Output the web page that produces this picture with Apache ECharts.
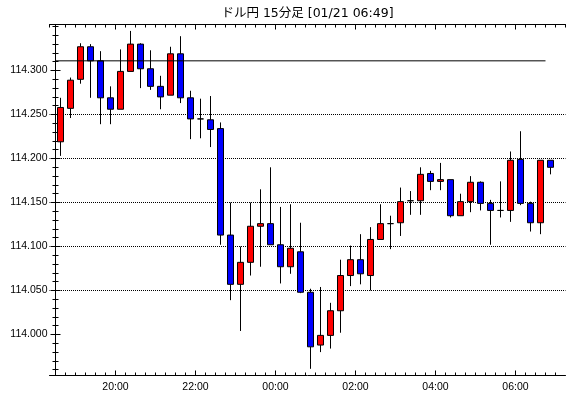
<!DOCTYPE html>
<html>
<head>
<meta charset="utf-8">
<script src="https://cdn.jsdelivr.net/npm/echarts@6/dist/echarts.min.js"></script>
<style>
html, body { margin: 0; padding: 0; background: #fff; }
#chart { width: 570px; height: 398px; }
</style>
</head>
<body>
<div id="chart"></div>
<script>
// 15分足 ローソク足 (時刻は足の開始時刻)
var times = [
  "18:30", "18:45", "19:00", "19:15", "19:30", "19:45", "20:00", "20:15", "20:30", "20:45",
  "21:00", "21:15", "21:30", "21:45", "22:00", "22:15", "22:30", "22:45", "23:00", "23:15",
  "23:30", "23:45", "00:00", "00:15", "00:30", "00:45", "01:00", "01:15", "01:30", "01:45",
  "02:00", "02:15", "02:30", "02:45", "03:00", "03:15", "03:30", "03:45", "04:00", "04:15",
  "04:30", "04:45", "05:00", "05:15", "05:30", "05:45", "06:00", "06:15", "06:30", "06:45"
];
var opens = [
  114.219, 114.257, 114.290, 114.327, 114.311, 114.269, 114.256, 114.299, 114.330, 114.302,
  114.282, 114.272, 114.319, 114.269, 114.245, 114.244, 114.234, 114.113, 114.057, 114.082,
  114.123, 114.126, 114.102, 114.077, 114.094, 114.048, 113.988, 113.999, 114.027, 114.067,
  114.085, 114.067, 114.108, 114.126, 114.127, 114.152, 114.152, 114.183, 114.174, 114.176,
  114.135, 114.151, 114.173, 114.149, 114.141, 114.141, 114.199, 114.149, 114.127, 114.198
];
var closes = [
  114.258, 114.289, 114.327, 114.311, 114.269, 114.256, 114.299, 114.330, 114.302, 114.282,
  114.270, 114.319, 114.269, 114.245, 114.245, 114.233, 114.113, 114.057, 114.082, 114.123,
  114.126, 114.102, 114.077, 114.098, 114.048, 113.986, 113.999, 114.027, 114.067, 114.085,
  114.069, 114.108, 114.126, 114.126, 114.151, 114.152, 114.182, 114.174, 114.176, 114.135,
  114.151, 114.173, 114.149, 114.141, 114.141, 114.198, 114.149, 114.127, 114.198, 114.190
];
var lows = [
  114.203, 114.246, 114.285, 114.269, 114.239, 114.239, 114.256, 114.299, 114.280, 114.278,
  114.256, 114.272, 114.263, 114.222, 114.223, 114.213, 114.102, 114.039, 114.004, 114.067,
  114.077, 114.102, 114.058, 114.069, 114.047, 113.961, 113.980, 113.984, 114.002, 114.055,
  114.057, 114.050, 114.108, 114.097, 114.112, 114.136, 114.136, 114.164, 114.164, 114.133,
  114.135, 114.139, 114.141, 114.102, 114.133, 114.128, 114.147, 114.117, 114.114, 114.182
];
var highs = [
  114.269, 114.292, 114.331, 114.330, 114.322, 114.282, 114.324, 114.345, 114.331, 114.323,
  114.294, 114.327, 114.339, 114.277, 114.268, 114.271, 114.241, 114.150, 114.100, 114.150,
  114.165, 114.190, 114.145, 114.148, 114.127, 114.052, 114.054, 114.036, 114.085, 114.101,
  114.114, 114.122, 114.148, 114.135, 114.167, 114.163, 114.190, 114.186, 114.195, 114.176,
  114.160, 114.180, 114.174, 114.153, 114.174, 114.208, 114.231, 114.151, 114.198, 114.198
];
var refLevel = 114.311;
var xTickLabels = ["20:00", "22:00", "00:00", "02:00", "04:00", "06:00"];
var yTickValues = [114.000, 114.050, 114.100, 114.150, 114.200, 114.250, 114.300];
var titleText = "ドル円 15分足 [01/21 06:49]";

var candles = times.map(function (t, i) {
  return [i + 0.5, opens[i], closes[i], lows[i], highs[i]];
});
var majorIdx = [];
times.forEach(function (t, i) {
  if (xTickLabels.indexOf(t) >= 0) majorIdx.push(i);
});

var font = "Liberation Sans";
var xMin = -0.6, xMax = times.length + 1;
var yMin = 113.9534, yMax = 114.3523;

function tickAxis(pos, len, step, extra) {
  var ax = {
    type: "value",
    position: pos,
    axisLine: { show: false },
    axisTick: { show: true, inside: true, length: len, lineStyle: { color: "#000", width: 1 } },
    axisLabel: { show: false },
    splitLine: { show: false }
  };
  if (pos == "top" || pos == "bottom") {
    ax.min = xMin; ax.max = xMax;
  } else {
    ax.min = yMin; ax.max = yMax;
  }
  if (step) { ax.minInterval = step; ax.maxInterval = step; }
  for (var k in extra) ax[k] = extra[k];
  return ax;
}

var chart = echarts.init(document.getElementById("chart"));
chart.setOption({
  animation: false,
  backgroundColor: "#fff",
  title: {
    text: titleText,
    left: 307.5,
    top: 7,
    padding: 0,
    textAlign: "center",
    textStyle: { color: "#000", fontSize: 12.5, fontWeight: "normal", fontFamily: "DejaVu Sans, Noto Sans CJK JP" }
  },
  grid: {
    left: 49.5,
    right: 4.5,
    top: 24.5,
    bottom: 22.5,
    outerBoundsMode: "none"
  },
  xAxis: [
    tickAxis("bottom", 3, 1, {
      axisLine: { show: true, lineStyle: { color: "#000", width: 1 } },
      axisLabel: {
        show: true,
        margin: 6,
        color: "#000",
        fontFamily: font,
        fontSize: 10.5,
        showMinLabel: false,
        showMaxLabel: false,
        formatter: function (v) {
          var t = times[v];
          return t && xTickLabels.indexOf(t) >= 0 ? t : "";
        }
      }
    }),
    tickAxis("bottom", 5, null, {
      axisTick: { show: true, inside: true, length: 5, customValues: majorIdx, lineStyle: { color: "#000", width: 1 } }
    }),
    tickAxis("top", 3, 1, {
      axisLine: { show: true, lineStyle: { color: "#000", width: 1 } }
    }),
    tickAxis("top", 5, null, {
      axisTick: { show: true, inside: true, length: 5, customValues: majorIdx, lineStyle: { color: "#000", width: 1 } }
    })
  ],
  yAxis: [
    tickAxis("left", 5, 0.05, {
      axisLine: { show: true, lineStyle: { color: "#000", width: 1 } },
      axisTick: { show: true, inside: true, length: 5, customValues: yTickValues, lineStyle: { color: "#000", width: 1 } },
      axisLabel: {
        show: true,
        margin: 2,
        color: "#000",
        fontFamily: font,
        fontSize: 10.5,
        customValues: yTickValues,
        formatter: function (v) { return v.toFixed(3); }
      },
      splitLine: {
        show: true,
        showMinLine: false,
        showMaxLine: false,
        lineStyle: { color: "#000", width: 1, type: [1, 1], dashOffset: 0.5 }
      }
    }),
    tickAxis("left", 3, 0.01, {}),
    tickAxis("right", 5, null, {
      axisLine: { show: true, lineStyle: { color: "#000", width: 1 } },
      axisTick: { show: true, inside: true, length: 5, customValues: yTickValues, lineStyle: { color: "#000", width: 1 } }
    }),
    tickAxis("right", 3, 0.01, {})
  ],
  series: [
    {
      type: "candlestick",
      xAxisIndex: 0,
      yAxisIndex: 0,
      data: candles,
      barWidth: 6,
      silent: true,
      itemStyle: {
        color: "#ff0000",
        color0: "#0000ff",
        borderColor: "#000",
        borderColor0: "#000",
        borderColorDoji: "#000",
        borderWidth: 1
      }
    },
    {
      type: "line",
      xAxisIndex: 0,
      yAxisIndex: 0,
      z: 5,
      silent: true,
      symbol: "none",
      lineStyle: { color: "#000", width: 1 },
      data: [[0, refLevel], [times.length - 1, refLevel]]
    }
  ]
});
</script>
</body>
</html>
